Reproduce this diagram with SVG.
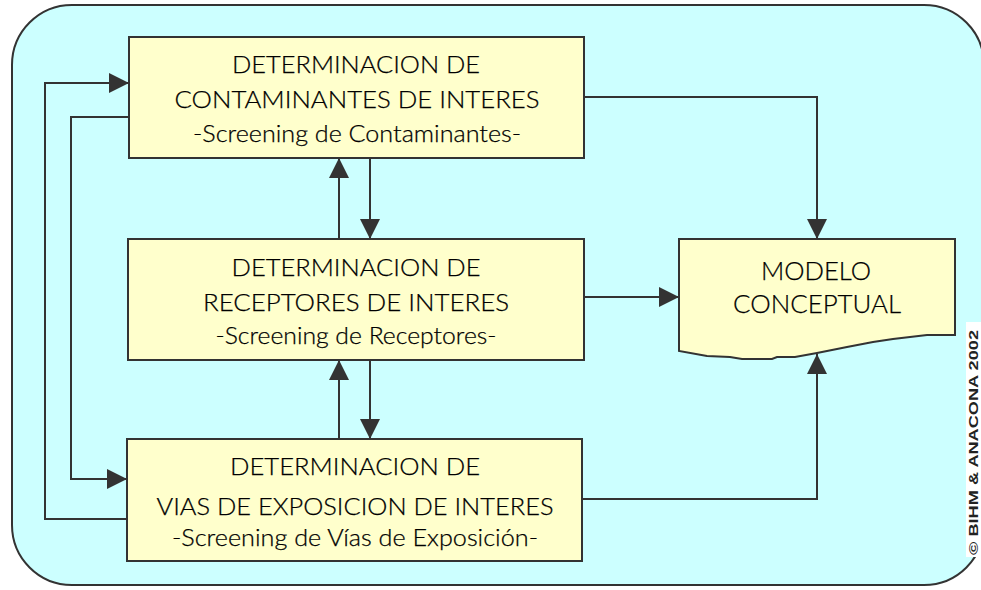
<svg xmlns="http://www.w3.org/2000/svg" width="981" height="590" viewBox="0 0 981 590">
<style>
.bg{fill:#CCFFFF;stroke:#333333;stroke-width:2}
.box{fill:#FFFFCC;stroke:#333333;stroke-width:2}
.t{font-family:Lato,"Liberation Sans",sans-serif;font-size:24px;font-weight:300;fill:#000000;stroke:#000000;stroke-width:0.25;text-anchor:middle}
.c{fill:none;stroke:#333333;stroke-width:2}
.cp{font-family:"Liberation Sans",Arial,sans-serif;font-size:13px;font-weight:bold;fill:#222222}
</style>
<defs>
<marker id="ah" markerUnits="userSpaceOnUse" markerWidth="20" markerHeight="20" viewBox="0 0 20 20" refX="20" refY="10" orient="auto">
<path d="M0,0 L20,10 L0,20 Z" fill="#333333"/>
</marker>
</defs>
<rect class="bg" x="12" y="5" width="972" height="580" rx="60" ry="60"/>
<rect x="966" y="322" width="15" height="235" fill="#FFFFFF"/>
<text class="cp" transform="translate(978,555) rotate(-90)" textLength="225" lengthAdjust="spacingAndGlyphs">© BIHM &amp; ANACONA 2002</text>
<g id="connectors">
<path class="c" d="M584,97 H817 V239" marker-end="url(#ah)"/>
<path class="c" d="M584,297 H679" marker-end="url(#ah)"/>
<path class="c" d="M582,499 H817 V354" marker-end="url(#ah)"/>
<path class="c" d="M127,519 H45 V83 H129" marker-end="url(#ah)"/>
<path class="c" d="M129,117 H71 V479 H127" marker-end="url(#ah)"/>
<path class="c" d="M339,239 V158" marker-end="url(#ah)"/>
<path class="c" d="M370,158 V239" marker-end="url(#ah)"/>
<path class="c" d="M339,439 V360" marker-end="url(#ah)"/>
<path class="c" d="M370,360 V439" marker-end="url(#ah)"/>
</g>
<g id="contaminantes">
<rect class="box" x="129" y="37" width="455" height="121"/>
<text class="t" x="356" y="73" textLength="248" lengthAdjust="spacingAndGlyphs">DETERMINACION DE</text>
<text class="t" x="357" y="108" textLength="365" lengthAdjust="spacingAndGlyphs">CONTAMINANTES DE INTERES</text>
<text class="t" x="357" y="142" textLength="328" lengthAdjust="spacingAndGlyphs">-Screening de Contaminantes-</text>
</g>
<g id="receptores">
<rect class="box" x="128" y="239" width="456" height="121"/>
<text class="t" x="356" y="276" textLength="249" lengthAdjust="spacingAndGlyphs">DETERMINACION DE</text>
<text class="t" x="356" y="311" textLength="306" lengthAdjust="spacingAndGlyphs">RECEPTORES DE INTERES</text>
<text class="t" x="356" y="344" textLength="281" lengthAdjust="spacingAndGlyphs">-Screening de Receptores-</text>
</g>
<g id="vias">
<rect class="box" x="127" y="439" width="455" height="122"/>
<text class="t" x="355" y="475" textLength="250" lengthAdjust="spacingAndGlyphs">DETERMINACION DE</text>
<text class="t" x="355" y="515" textLength="397" lengthAdjust="spacingAndGlyphs">VIAS DE EXPOSICION DE INTERES</text>
<text class="t" x="355" y="546" textLength="366" lengthAdjust="spacingAndGlyphs">-Screening de Vías de Exposición-</text>
</g>
<g id="modelo">
<path class="box" d="M679,239 H955 V335 L927,335 L893,339 L873,342 L847,347 L817,353 L795,357 L777,357 L772,359 L742,359 L730,357 L707,356 L679,351 Z"/>
<text class="t" x="816" y="280" style="font-size:25px" textLength="110" lengthAdjust="spacingAndGlyphs">MODELO</text>
<text class="t" x="817" y="313" style="font-size:25px" textLength="168" lengthAdjust="spacingAndGlyphs">CONCEPTUAL</text>
</g>
</svg>
